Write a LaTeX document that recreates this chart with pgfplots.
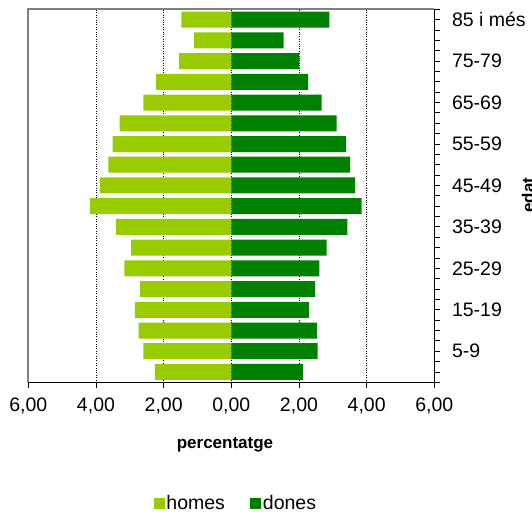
\documentclass[border=0pt]{standalone}
\usepackage{pgfplots}
\pgfplotsset{compat=1.18}
\usepackage{fontspec}
\setmainfont{Liberation Sans}
\definecolor{homes}{RGB}{153,204,0}
\definecolor{dones}{RGB}{0,128,0}
\definecolor{frame}{RGB}{128,128,128}
\begin{document}
\begin{tikzpicture}
\useasboundingbox (0,0) rectangle (532pt,-515pt);
\begin{axis}[
at={(28.3pt,-382.3pt)}, anchor=south west,
scale only axis, width=406pt, height=373pt,
xmin=-6, xmax=6, ymin=-0.5, ymax=17.5,
xbar, bar width=16pt,
clip=false,
axis line style={draw=none},
xtick={-6,-4,...,6},
xtick pos=bottom,
xticklabel={\pgfmathparse{abs(\tick)}\pgfmathprintnumber[fixed,fixed zerofill,precision=2,use comma]{\pgfmathresult}},
/pgf/number format/assume math mode=true,
ytick={1,3,...,17},
yticklabels={5-9,15-19,25-29,35-39,45-49,55-59,65-69,75-79,85 i més},
minor ytick={-0.5,0,...,17.5},
ytick pos=right,
tick align=outside,
major tick length=5.5pt, minor tick length=5.5pt,
tick style={black, line width=0.9pt},
ticklabel style={font=\fontsize{19.5}{22}\selectfont},
yticklabel style={anchor=west, inner sep=0pt, xshift=12pt},
xticklabel style={anchor=north, inner sep=0pt, yshift=-10pt},
xmajorgrids=true,
grid style={black, dotted, line width=0.6pt},
xlabel={\bfseries percentatge},
xlabel style={at={(0.4845,-0.168)}, anchor=center, font=\fontsize{17}{20}\selectfont},
ylabel={\bfseries edat},
ylabel style={at={(1.2153,0.502)}, anchor=north, rotate=0, inner sep=0pt, font=\fontsize{17}{20}\selectfont},
legend style={at={(0.511,-0.3236)}, anchor=center, draw=none, fill=none,
  legend columns=2, font=\fontsize{19.5}{22}\selectfont,
  nodes={inner sep=1.5pt},
  /tikz/every even column/.append style={column sep=24pt}},
legend image code/.code={\fill[#1] (0pt,-5.5pt) rectangle (11pt,5.5pt);},
]
\addplot[fill=homes, draw=none, bar shift=0pt] coordinates {
(-2.26,0) (-2.60,1) (-2.74,2) (-2.85,3) (-2.70,4) (-3.16,5)
(-2.96,6) (-3.41,7) (-4.18,8) (-3.88,9) (-3.63,10) (-3.51,11)
(-3.30,12) (-2.60,13) (-2.22,14) (-1.54,15) (-1.10,16) (-1.475,17)};
\addplot[fill=dones, draw=none, bar shift=0pt] coordinates {
(2.12,0) (2.55,1) (2.53,2) (2.29,3) (2.48,4) (2.60,5)
(2.82,6) (3.43,7) (3.85,8) (3.66,9) (3.51,10) (3.39,11)
(3.11,12) (2.67,13) (2.27,14) (2.01,15) (1.55,16) (2.90,17)};
\legend{homes,dones}
\draw[frame, line width=2pt] (rel axis cs:0,0) -- (rel axis cs:0,1) -- (rel axis cs:1,1);
\draw[black, line width=1.2pt] (rel axis cs:0,0) -- (rel axis cs:1,0) -- (rel axis cs:1,1);
\end{axis}
\end{tikzpicture}
\end{document}
